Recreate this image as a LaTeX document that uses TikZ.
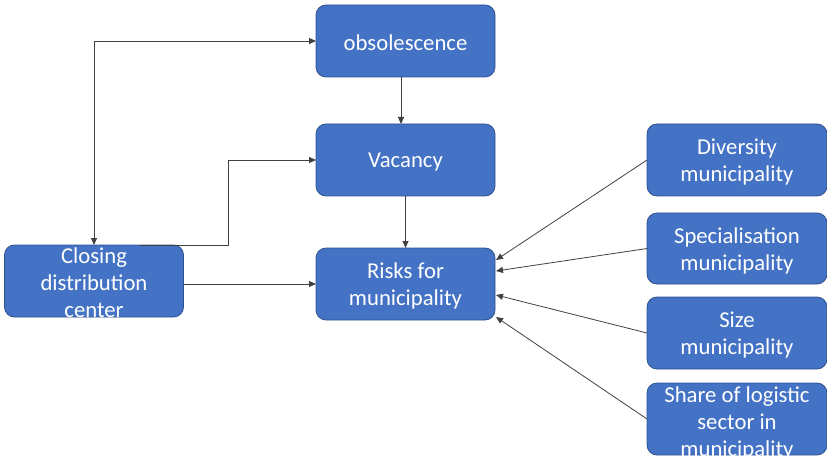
\documentclass[tikz,border=0pt]{standalone}
\usepackage{fontspec}
\setmainfont{Carlito}
\usetikzlibrary{arrows.meta}
\definecolor{boxblue}{HTML}{4472C4}
\definecolor{boxedge}{HTML}{2F528F}
\tikzset{
  box/.style={draw=boxedge, line width=0.8pt, fill=boxblue, rounded corners=10pt,
    minimum width=179pt, minimum height=72pt, inner sep=0pt, outer sep=0pt},
  boxtext/.style={text=white, align=center, inner sep=0pt,
    font=\fontsize{22.7}{27}\selectfont},
  conn/.style={draw=black!75, line width=0.8pt, -{Triangle[length=7pt,width=6pt]}},
  bconn/.style={draw=black!75, line width=0.8pt, {Triangle[length=7pt,width=6pt]}-{Triangle[length=7pt,width=6pt]}}
}
\begin{document}
\begin{tikzpicture}[x=1pt,y=-1pt]
\useasboundingbox (0,0) rectangle (827,457);
\node[box] (obs) at (405.5,41) {};
\node[boxtext] (obst) at ([yshift=-2]obs.center) {obsolescence};
\node[box] (vac) at (405.5,160) {};
\node[boxtext] (vact) at ([yshift=-2]vac.center) {Vacancy};
\node[box] (risk) at (405.5,284) {};
\node[boxtext] (riskt) at ([yshift=-2]risk.center) {Risks for\\municipality};
\node[box] (close) at (94,281) {};
\node[boxtext] (closet) at ([yshift=-2]close.center) {Closing\\distribution\\center};
\node[box, minimum width=180pt] (div) at (737,160) {};
\node[boxtext] (divt) at ([yshift=-2]div.center) {Diversity\\municipality};
\node[box, minimum width=180pt, minimum height=71pt] (spec) at (737,248.5) {};
\node[boxtext] (spect) at ([yshift=-2]spec.center) {Specialisation\\municipality};
\node[box, minimum width=180pt] (size) at (737,333) {};
\node[boxtext] (sizet) at ([yshift=-2]size.center) {Size\\municipality};
\node[box, minimum width=180pt] (share) at (737,419) {};
\node[boxtext] (sharet) at ([yshift=-4]share.center) {Share of logistic\\sector in\\municipality};
\coordinate (bend) at (228,160);
% connectors
\draw[bconn] (close.north) |- (obs.west);
\draw[conn] ([xshift=-4.5]obs.south) -- ([xshift=-4.5]vac.north);
\draw[conn] ([xshift=46]close.north) -| (bend) -- (vac.west);
\draw[conn] (vac.south) -- (risk.north);
\draw[conn] (close.east |- risk.west) -- (risk.west);
\draw[conn] (div.west) -- ([xshift=1,yshift=24]risk.east);
\draw[conn] (spec.west) -- ([xshift=1,yshift=13]risk.east);
\draw[conn] (size.west) -- ([xshift=1,yshift=-11]risk.east);
\draw[conn] (share.west) -- ([xshift=1,yshift=-33]risk.east);
\end{tikzpicture}
\end{document}
